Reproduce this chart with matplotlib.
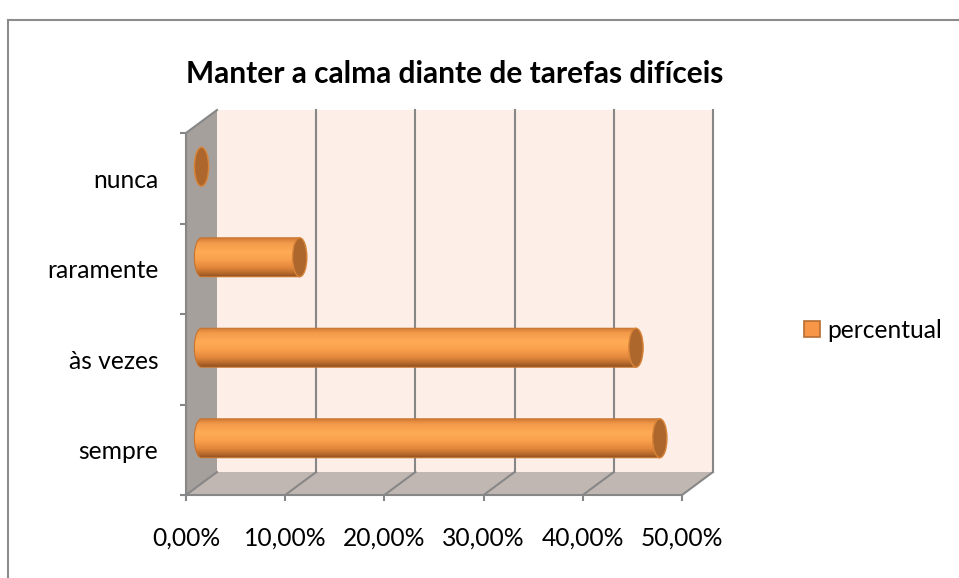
import numpy as np
import matplotlib
matplotlib.use("Agg")
from matplotlib import pyplot as plt
from matplotlib.patches import Polygon, Ellipse, Patch
from matplotlib.ticker import FuncFormatter

# chart data
categories = ["sempre", "às vezes", "raramente", "nunca"]
values = [0.462, 0.438, 0.099, 0.0]
x_ticks = [0.0, 0.1, 0.2, 0.3, 0.4, 0.5]
title = "Manter a calma diante de tarefas difíceis"
series_name = "percentual"

plt.rcParams["font.family"] = ["Lato", "DejaVu Sans"]

W, H = 959, 578
fig = plt.figure(figsize=(W / 100, H / 100), dpi=100)

# outer chart frame (cut off on right and bottom)
fig.add_artist(plt.Line2D([8 / W, 8 / W], [0, 1 - 20 / H], color="#8c8c8c", lw=1.5))
fig.add_artist(plt.Line2D([8 / W, 1], [1 - 20 / H, 1 - 20 / H], color="#8c8c8c", lw=1.5))

# front plane of the 3d box
ax = fig.add_axes([186 / W, 83 / H, 496 / W, 362 / H])
ax.set_facecolor("none")

# depth offset in data units
ddx = 31 / 992.0
ddy = 0.254
ymin, ymax = -0.5, 3.5
xmax = 0.5
grid_col = "#878787"

# back wall
ax.add_patch(Polygon([(ddx, ymin + ddy), (xmax + ddx, ymin + ddy), (xmax + ddx, ymax + ddy),
                      (ddx, ymax + ddy)], closed=True, facecolor="#fdeee7",
                     edgecolor="none", clip_on=False, zorder=0))
# side wall
ax.add_patch(Polygon([(0, ymin), (0, ymax), (ddx, ymax + ddy), (ddx, ymin + ddy)], closed=True,
                     facecolor="#a6a09c", edgecolor="none", clip_on=False, zorder=1))
# floor
ax.add_patch(Polygon([(0, ymin), (xmax, ymin), (xmax + ddx, ymin + ddy), (ddx, ymin + ddy)],
                     closed=True, facecolor="#c1b7b2", edgecolor="none", clip_on=False, zorder=1))

# gridlines on back wall and floor
for xt in x_ticks[1:]:
    ax.plot([xt + ddx, xt + ddx], [ymin + ddy, ymax + ddy], color=grid_col, lw=1.5,
            clip_on=False, zorder=2)
    ax.plot([xt, xt + ddx], [ymin, ymin + ddy], color=grid_col, lw=1.5, clip_on=False, zorder=2)
ax.plot([0, ddx], [ymin, ymin + ddy], color=grid_col, lw=1.5, clip_on=False, zorder=2)
ax.plot([0, ddx], [ymax, ymax + ddy], color=grid_col, lw=1.5, clip_on=False, zorder=2)

# cylinders at mid depth
bar_h = 0.43
rx = 0.0072
grad = np.array([0.0, 0.12, 0.35, 0.55, 0.75, 0.9, 1.0])
grad_cols = ["#d27a34", "#f29a4a", "#ffab55", "#f9a04d", "#e4893c", "#b86a2c", "#8c4f1f"]
cmap = matplotlib.colors.LinearSegmentedColormap.from_list("cyl", list(zip(grad, grad_cols)))
gy = np.linspace(0, 1, 200).reshape(-1, 1)

for i, v in enumerate(values):
    yc = i + ddy / 2
    x0 = ddx / 2
    x1 = x0 + v
    if v > 0:
        th = np.linspace(np.pi / 2, 3 * np.pi / 2, 40)
        left = np.column_stack([x0 + rx * np.cos(th), yc + bar_h / 2 * np.sin(th)])
        pts = np.vstack([left, [[x1, yc - bar_h / 2], [x1, yc + bar_h / 2]]])
        body = Polygon(pts, closed=True, facecolor="none", edgecolor="#c8742f", lw=0.8, zorder=4)
        ax.add_patch(body)
        im = ax.imshow(gy, cmap=cmap, aspect="auto", origin="upper",
                       extent=(x0 - rx, x1, yc - bar_h / 2, yc + bar_h / 2), zorder=3)
        im.set_clip_path(body)
    ax.add_patch(Ellipse((x1, yc), 2 * rx, bar_h, facecolor="#ad672d", edgecolor="#d88438",
                         lw=1.0, zorder=5))

ax.set_xlim(0, 0.5)
ax.set_ylim(ymin, ymax)
ax.set_aspect("auto")

# axes lines and ticks
for s in ["top", "right"]:
    ax.spines[s].set_visible(False)
for s in ["left", "bottom"]:
    ax.spines[s].set_color(grid_col)
    ax.spines[s].set_linewidth(1.5)
    ax.spines[s].set_zorder(6)

fs = 17.7
ax.set_xticks(x_ticks)
ax.xaxis.set_major_formatter(FuncFormatter(lambda x, p: f"{x * 100:.2f}%".replace(".", ",")))
ax.tick_params(axis="x", length=4.5, width=1.5, color=grid_col, pad=18, labelsize=fs,
               labelcolor="#000000")
ax.set_yticks(np.arange(len(categories) + 1) - 0.5)
ax.set_yticklabels([])
ax.set_yticks(np.arange(len(categories)), minor=True)
ax.set_yticklabels(categories, minor=True)
ax.tick_params(axis="y", which="major", length=4.5, width=1.5, color=grid_col)
ax.tick_params(axis="y", which="minor", length=0, pad=20, labelsize=fs, labelcolor="#000000")

fig.text(455 / W, 1 - 74 / H, title, ha="center", va="center", fontsize=21.5, fontweight="bold")

handle = Patch(facecolor="#f79646", edgecolor="#b66d31", lw=1.2)
fig.legend([handle], [series_name], loc="center left", bbox_to_anchor=(804 / W, 1 - 330 / H),
           frameon=False, fontsize=fs, handlelength=0.65, handleheight=0.65, handletextpad=0.3,
           borderpad=0, borderaxespad=0)

fig.savefig("out.png", dpi=100)
